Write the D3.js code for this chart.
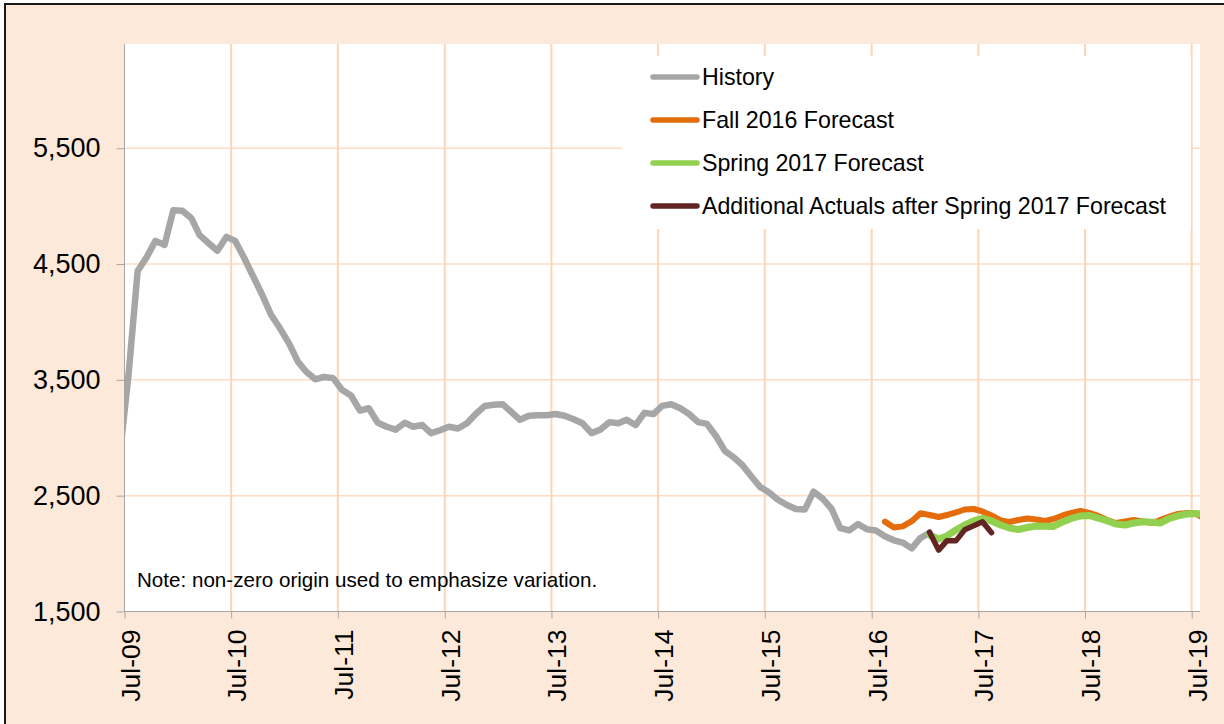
<!DOCTYPE html>
<html>
<head>
<meta charset="utf-8">
<script src="https://cdn.jsdelivr.net/npm/d3@7"></script>
<style>
  html, body { margin: 0; padding: 0; background: #ffffff; }
  svg { display: block; font-family: "Liberation Sans", Arial, sans-serif; }
</style>
</head>
<body>
<svg id="chart" width="1224" height="724"></svg>
<script>
"use strict";

// monthly values, plotted at mid-month
var historyStart = new Date(2009, 5, 15);   // Jun-09
var historyValues = [
    2850, 3550, 4440, 4560, 4700, 4665, 4965, 4960, 4895, 4750, 4680, 4615,
    4735, 4700, 4550, 4390, 4235, 4060, 3945, 3815, 3655, 3570, 3505, 3525,
    3515, 3415, 3365, 3235, 3255, 3130, 3095, 3070, 3130, 3095, 3110, 3040,
    3065, 3095, 3080, 3125, 3205, 3275, 3285, 3290, 3220, 3155, 3190, 3195,
    3195, 3205, 3190, 3160, 3125, 3040, 3070, 3135, 3125, 3155, 3110, 3215,
    3205, 3275, 3290, 3255, 3205, 3135, 3120, 3015, 2885, 2835, 2765, 2670,
    2575, 2530, 2465, 2420, 2385, 2380, 2535, 2475, 2385, 2220, 2200, 2255,
    2210, 2200, 2150, 2115, 2095, 2045, 2135, 2180
];

var fallStart = new Date(2016, 7, 15);      // Aug-16
var fallValues = [
    2276, 2225, 2235, 2280, 2348, 2333, 2316, 2333, 2355, 2381, 2385, 2364,
    2329, 2286, 2273, 2290, 2303, 2295, 2282, 2299, 2329, 2351, 2368, 2351,
    2325, 2290, 2264, 2277, 2290, 2277, 2264, 2290, 2320, 2342, 2351, 2346,
    2299
];

var springStart = new Date(2017, 0, 15);    // Jan-17
var springValues = [
    2161, 2126, 2152, 2204, 2247, 2282, 2305, 2282, 2247, 2221, 2208, 2225,
    2238, 2236, 2234, 2273, 2303, 2325, 2329, 2307, 2282, 2256, 2247, 2264,
    2275, 2270, 2264, 2303, 2325, 2342, 2346, 2342
];

var actualsStart = new Date(2017, 0, 15);   // Jan-17
var actualsValues = [2185, 2030, 2110, 2110, 2205, 2240, 2275, 2180];

var xTickLabels = ["Jul-09", "Jul-10", "Jul-11", "Jul-12", "Jul-13", "Jul-14",
    "Jul-15", "Jul-16", "Jul-17", "Jul-18", "Jul-19"];
var yTicks = [1500, 2500, 3500, 4500, 5500];

var seriesNames = ["History", "Fall 2016 Forecast", "Spring 2017 Forecast",
    "Additional Actuals after Spring 2017 Forecast"];
var seriesColors = ["#a6a6a6", "#e46c0a", "#92d050", "#632523"];
var seriesWidths = [6.5, 6, 7, 5.5];

(function () {
    var svg = d3.select("#chart"),
        left = 124.5,
        right = 1200,
        top = 44,
        bottom = 611.5,
        font = "\"Liberation Sans\", Arial, sans-serif",
        x,
        y,
        line,
        series,
        legend;

    function toPoints(start, values) {
        return values.map(function (v, i) {
            return { date: d3.timeMonth.offset(start, i), value: v };
        });
    }

    series = [
        toPoints(historyStart, historyValues),
        toPoints(fallStart, fallValues),
        toPoints(springStart, springValues),
        toPoints(actualsStart, actualsValues)
    ];

    x = d3.scaleTime()
        .domain([new Date(2009, 6, 1), new Date(2019, 6, 1)])
        .range([left, 1191.7]);
    y = d3.scaleLinear()
        .domain([1500, 6400])
        .range([bottom, top]);

    var xTicks = xTickLabels.map(function (d, i) { return new Date(2009 + i, 6, 1); });

    // outer panel
    svg.append("rect")
        .attr("x", 5).attr("y", 4)
        .attr("width", 1240).attr("height", 740)
        .attr("fill", "#fde9d9")
        .attr("stroke", "#1a1a1a")
        .attr("stroke-width", 2);

    svg.append("rect")
        .attr("x", left).attr("y", top)
        .attr("width", right - left).attr("height", bottom - top)
        .attr("fill", "#ffffff");

    svg.append("clipPath").attr("id", "plot-clip")
        .append("rect")
        .attr("x", left).attr("y", top)
        .attr("width", right - left).attr("height", bottom - top);

    // gridlines
    svg.append("g").selectAll("line")
        .data(yTicks.slice(1))
        .enter().append("line")
        .attr("x1", left).attr("x2", right)
        .attr("y1", function (d) { return y(d); })
        .attr("y2", function (d) { return y(d); })
        .attr("stroke", "#fcdcc4")
        .attr("stroke-width", 1.5);

    svg.append("g").selectAll("line")
        .data(xTicks.slice(1))
        .enter().append("line")
        .attr("x1", function (d) { return x(d); })
        .attr("x2", function (d) { return x(d); })
        .attr("y1", top).attr("y2", bottom)
        .attr("stroke", "#fbd5b5")
        .attr("stroke-width", 2);

    // axes
    var yAxis = svg.append("g")
        .attr("transform", "translate(" + left + ",0)")
        .call(d3.axisLeft(y).tickValues(yTicks).tickSize(8).tickPadding(16)
            .tickFormat(d3.format(",")));
    yAxis.select(".domain").attr("stroke", "#a6a6a6").attr("d", "M0," + top + "V" + bottom);
    yAxis.selectAll(".tick line").attr("stroke", "#a6a6a6");
    yAxis.selectAll(".tick text")
        .attr("fill", "#000")
        .style("font-family", font)
        .style("font-size", "27px");

    var xAxis = svg.append("g")
        .attr("transform", "translate(0," + bottom + ")")
        .call(d3.axisBottom(x).tickValues(xTicks).tickSize(7)
            .tickFormat(function (d, i) { return xTickLabels[i]; }));
    xAxis.select(".domain").attr("stroke", "#a6a6a6").attr("d", "M" + left + ",0H" + right);
    xAxis.selectAll(".tick line").attr("stroke", "#a6a6a6");
    xAxis.selectAll(".tick text")
        .attr("fill", "#000")
        .attr("text-anchor", "end")
        .attr("dy", null)
        .attr("y", null)
        .attr("transform", "translate(14.5,18) rotate(-90)")
        .style("font-family", font)
        .style("font-size", "26.5px");

    // series
    line = d3.line()
        .x(function (d) { return x(d.date); })
        .y(function (d) { return y(d.value); });

    svg.append("g")
        .attr("clip-path", "url(#plot-clip)")
        .selectAll("path")
        .data(series)
        .enter().append("path")
        .attr("d", line)
        .attr("fill", "none")
        .attr("stroke", function (d, i) { return seriesColors[i]; })
        .attr("stroke-width", function (d, i) { return seriesWidths[i]; })
        .attr("stroke-linejoin", "round")
        .attr("stroke-linecap", "round");

    // legend
    legend = svg.append("g");
    legend.append("rect")
        .attr("x", 622).attr("y", 56)
        .attr("width", 569).attr("height", 173)
        .attr("fill", "#ffffff");

    var rows = legend.selectAll("g.row")
        .data(seriesNames)
        .enter().append("g")
        .attr("class", "row")
        .attr("transform", function (d, i) { return "translate(0," + (77 + i * 43) + ")"; });

    rows.append("line")
        .attr("x1", 653).attr("x2", 697)
        .attr("stroke", function (d, i) { return seriesColors[i]; })
        .attr("stroke-width", 5.5)
        .attr("stroke-linecap", "round");

    rows.append("text")
        .attr("x", 702)
        .attr("dy", "0.35em")
        .style("font-family", font)
        .style("font-size", "23.2px")
        .text(function (d) { return d; });

    svg.append("text")
        .attr("x", 137)
        .attr("y", 587)
        .style("font-family", font)
        .style("font-size", "20.6px")
        .text("Note: non-zero origin used to emphasize variation.");
}());
</script>
</body>
</html>
